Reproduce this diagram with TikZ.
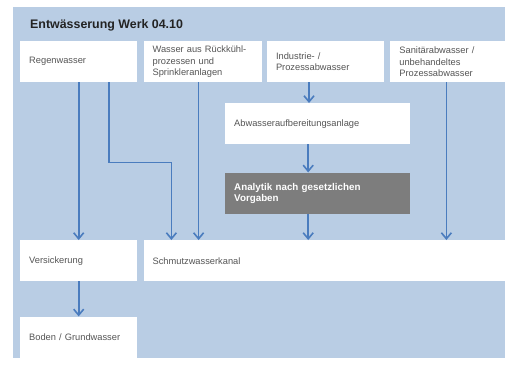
\documentclass[tikz,border=0pt]{standalone}
\usepackage{fontspec}
\setmainfont{Liberation Sans}
\usetikzlibrary{arrows.meta,positioning}
\definecolor{bgBlue}{RGB}{185,205,228}
\definecolor{flowBlue}{RGB}{74,124,190}
\definecolor{boxGray}{RGB}{125,125,125}
\definecolor{txtGray}{RGB}{85,85,85}
\definecolor{titleGray}{RGB}{35,35,35}
\tikzset{
  panel/.style={fill=white, minimum height=41pt, inner xsep=9pt, inner ysep=0pt, text width=#1, align=left, font=\fontsize{9.3}{11.3}\selectfont, text=txtGray},
  check/.style={fill=boxGray, minimum height=41pt, inner xsep=9pt, inner ysep=0pt, text width=#1, align=left, font=\bfseries\fontsize{9.8}{10.8}\selectfont, text=white},
  arrow/.style={-{Straight Barb[length=6pt, width=10pt]}, line width=1.6pt, draw=flowBlue},
  heading/.style={anchor=base west, inner sep=0pt, font=\bfseries\fontsize{12.4}{14}\selectfont, text=titleGray}
}

\begin{document}
\begin{tikzpicture}[x=1pt, y=-1pt]
  \useasboundingbox (0,0) rectangle (505,369);
  \fill[bgBlue] (13,7) rectangle (505,358);
  \node[heading] (title) at (30,29) {Entwässerung Werk 04.10};

  % Zuläufe
  \node[panel=99pt, anchor=north west] (regen) at (20,41) {Regenwasser};
  \node[panel=100pt, right=6pt of regen] (wasser) {Wasser aus Rückkühl-\\prozessen und\\Sprinkleranlagen};
  \node[panel=99pt, right=5pt of wasser] (ind) {Industrie- /\\Prozessabwasser};
  \node[panel=99pt, right=6pt of ind] (san) {Sanitärabwasser /\\unbehandeltes\\Prozessabwasser};

  % Behandlung
  \node[panel=167pt, anchor=north west] (abw) at (225,103) {Abwasseraufbereitungsanlage};
  \node[check=167pt, below=28pt of abw] (ana) {Analytik nach gesetzlichen\\Vorgaben};

  % Ableitung
  \node[panel=99pt, anchor=north west] (vers) at (20,240) {Versickerung};
  \node[panel=344pt, right=6pt of vers] (kanal) {Schmutzwasserkanal};
  \node[panel=99pt, below=35pt of vers] (boden) {Boden / Grundwasser};

  \draw[arrow] (regen) -- (vers);
  \draw[arrow] ([xshift=30.5pt]regen.south) -- ++(0,80) -| ([xshift=28pt]kanal.north west);
  \draw[arrow] ([xshift=-4pt]wasser.south) -- ([xshift=-4pt]wasser.south |- kanal.north);
  \draw[arrow] ([xshift=-16.5pt]ind.south) -- ([xshift=-16.5pt]ind.south |- abw.north);
  \draw[arrow] ([xshift=-9.5pt]abw.south) -- ([xshift=-9.5pt]ana.north);
  \draw[arrow] ([xshift=-9.5pt]ana.south) -- ([xshift=-9.5pt]ana.south |- kanal.north);
  \draw[arrow] ([xshift=-2.5pt]san.south) -- ([xshift=-2.5pt]san.south |- kanal.north);
  \draw[arrow] (vers) -- (boden);
\end{tikzpicture}
\end{document}
